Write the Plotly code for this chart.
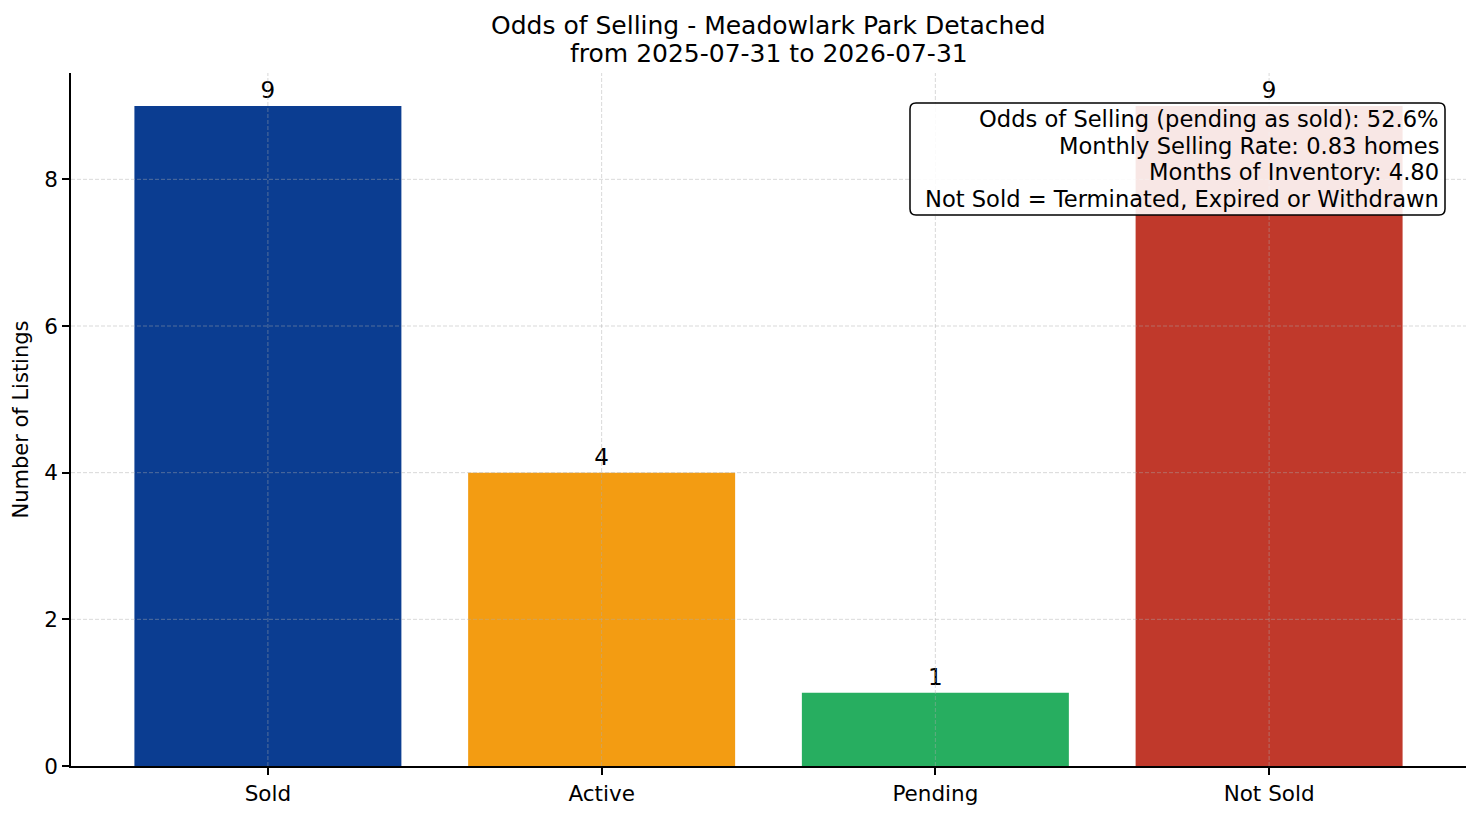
import plotly.graph_objects as go

categories = ["Sold", "Active", "Pending", "Not Sold"]
counts = [9, 4, 1, 9]
bar_colors = ["#0b3d91", "#f39c12", "#27ae60", "#c0392b"]
y_ticks = [0, 2, 4, 6, 8]

title_lines = ["Odds of Selling - Meadowlark Park Detached", "from 2025-07-31 to 2026-07-31"]
stats_lines = [
    "Odds of Selling (pending as sold): 52.6%",
    "Monthly Selling Rate: 0.83 homes",
    "Months of Inventory: 4.80",
    "Not Sold = Terminated, Expired or Withdrawn",
]

font = "DejaVu Sans"
xs = list(range(len(categories)))

# plot area size in px (for placing the text box)
plot_w, plot_h = 1395, 693

fig = go.Figure()
fig.add_trace(go.Bar(
    x=xs,
    y=counts,
    width=0.8,
    marker=dict(color=bar_colors, line=dict(width=0)),
    text=[str(c) for c in counts],
    textposition="outside",
    textfont=dict(family=font, size=23, color="black"),
    cliponaxis=False,
    hoverinfo="skip",
))

# grid drawn above the bars, like the reference
grid = dict(color="rgba(170,170,170,0.45)", width=1, dash="4px,2px")
for x in xs:
    fig.add_shape(type="line", xref="x", yref="paper", x0=x, x1=x, y0=0, y1=1,
                  line=grid, layer="above")
for y in y_ticks[1:]:
    fig.add_shape(type="line", xref="paper", yref="y", x0=0, x1=1, y0=y, y1=y,
                  line=grid, layer="above")

# rounded text box (top right)
bx0, bx1 = 1 - 556 / plot_w, 1 - 21 / plot_w
by1, by0 = 1 - 30 / plot_h, 1 - 142 / plot_h
rx, ry = 6 / plot_w, 6 / plot_h
box_path = (
    f"M {bx0 + rx},{by1} L {bx1 - rx},{by1} Q {bx1},{by1} {bx1},{by1 - ry} "
    f"L {bx1},{by0 + ry} Q {bx1},{by0} {bx1 - rx},{by0} "
    f"L {bx0 + rx},{by0} Q {bx0},{by0} {bx0},{by0 + ry} "
    f"L {bx0},{by1 - ry} Q {bx0},{by1} {bx0 + rx},{by1} Z"
)
fig.add_shape(type="path", xref="paper", yref="paper", path=box_path,
              fillcolor="rgba(255,255,255,0.88)", line=dict(color="black", width=1.5),
              layer="above")

annotations = []
for i, line in enumerate(title_lines):
    annotations.append(dict(
        xref="paper", yref="paper", x=0.5, y=1, xanchor="center", yanchor="middle",
        yshift=48 - 28 * i, text=line, showarrow=False,
        font=dict(family=font, size=25, color="black"),
    ))
for i, line in enumerate(stats_lines):
    annotations.append(dict(
        xref="paper", yref="paper", x=1 - 25 / plot_w, y=1, xanchor="right", yanchor="middle",
        yshift=-(46 + 26.7 * i), text=line, showarrow=False,
        font=dict(family=font, size=22.6, color="black"),
    ))

axis_common = dict(
    showline=True, linecolor="black", linewidth=1.5,
    ticks="outside", ticklen=7, tickwidth=1.5, tickcolor="black",
    showgrid=False,
    tickfont=dict(family=font, size=21.5, color="black"),
    zeroline=False, layer="above traces", automargin=False,
)

fig.update_layout(
    width=1465, height=800,
    margin=dict(l=63, r=7, t=65, b=42),
    plot_bgcolor="white", paper_bgcolor="white",
    showlegend=False,
    xaxis=dict(
        axis_common,
        range=[-0.59, len(categories) - 1 + 0.59],
        tickmode="array",
        tickvals=xs,
        ticktext=categories,
    ),
    yaxis=dict(
        axis_common,
        range=[0, max(counts) * 1.05],
        tickmode="array",
        tickvals=y_ticks,
        title=dict(text="Number of Listings", font=dict(family=font, size=21, color="black"), standoff=10),
    ),
    annotations=annotations,
)

fig.write_html("out.html")
